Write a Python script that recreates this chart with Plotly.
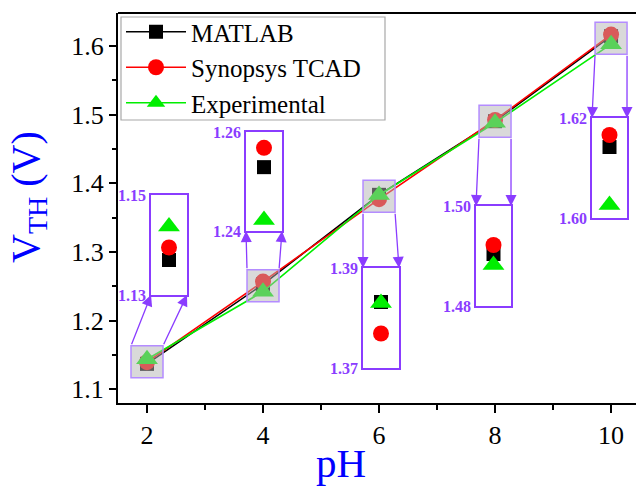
import plotly.graph_objects as go

# ---------------- data ----------------
ph = [2, 4, 6, 8, 10]
matlab = [1.137, 1.2529, 1.3832, 1.4904, 1.6142]
tcad = [1.1395, 1.2568, 1.3769, 1.4922, 1.6166]
experimental = [1.1437, 1.2422, 1.3830, 1.4882, 1.6026]
series_names = ["MATLAB", "Synopsys TCAD", "Experimental"]
inset_lo = [1.13, 1.24, 1.37, 1.48, 1.60]
inset_hi = [1.15, 1.26, 1.39, 1.50, 1.62]
x_ticks = [2, 4, 6, 8, 10]
y_ticks = [1.1, 1.2, 1.3, 1.4, 1.5, 1.6]

# ---------------- layout constants ----------------
W, H = 636, 486
ML, MT, PW, PHt = 118, 13, 518, 390
xr = [1.5, 10.43]
yr = [1.08, 1.648]
FONT = "Times New Roman, Liberation Serif, serif"
PURPLE = "#8a3cff"
PURPLE_LIGHT = "#b48cff"
HB = 16  # half size of highlight boxes (px)

# inset boxes in pixels: left, top, right, bottom
inset_px = [
    (151, 195, 187, 295),
    (246, 132, 282, 231),
    (363, 268, 399, 368),
    (476, 206, 511, 306),
    (592, 118, 627, 218),
]
legend_box_px = (121, 17, 385, 120)


def px(x):
    return ML + (x - xr[0]) / (xr[1] - xr[0]) * PW


def py(y):
    return MT + (yr[1] - y) / (yr[1] - yr[0]) * PHt


def pap_x(p):
    return (p - ML) / PW


def pap_y(p):
    return (MT + PHt - p) / PHt


styles = [
    dict(color="black", symbol="square", size=14),
    dict(color="red", symbol="circle", size=16),
    dict(color="#00ee00", symbol="triangle-up", size=19),
]
line_colors = ["black", "red", "#00ee00"]
all_series = [matlab, tcad, experimental]

fig = go.Figure()

# main traces
for name, vals, st, lc in zip(series_names, all_series, styles, line_colors):
    fig.add_trace(go.Scatter(
        x=ph, y=vals, mode="lines+markers", name=name,
        line=dict(color=lc, width=1.6),
        marker=dict(color=st["color"], symbol=st["symbol"], size=st["size"], line=dict(width=0)),
        xaxis="x", yaxis="y",
    ))

layout_axes = {}
annotations = []
shapes = []

for i, p in enumerate(ph):
    k = i + 2
    L, T, R, B = inset_px[i]
    for vals, st in zip(all_series, styles):
        fig.add_trace(go.Scatter(
            x=[p], y=[vals[i]], mode="markers", showlegend=False,
            marker=dict(color=st["color"], symbol=st["symbol"], size=st["size"], line=dict(width=0)),
            xaxis=f"x{k}", yaxis=f"y{k}", hoverinfo="skip",
        ))
    layout_axes[f"xaxis{k}"] = dict(
        domain=[pap_x(L), pap_x(R)], anchor=f"y{k}", range=[p - 1, p + 1],
        showticklabels=False, ticks="", showgrid=False, zeroline=False,
        showline=True, mirror=True, linecolor=PURPLE, linewidth=1.5, fixedrange=True,
    )
    layout_axes[f"yaxis{k}"] = dict(
        domain=[pap_y(B), pap_y(T)], anchor=f"x{k}", range=[inset_lo[i], inset_hi[i]],
        tickvals=[inset_lo[i], inset_hi[i]],
        ticktext=[f"<b>{inset_lo[i]:.2f}</b>", f"<b>{inset_hi[i]:.2f}</b>"],
        tickfont=dict(family=FONT, size=16, color=PURPLE),
        ticks="", ticklen=0, showgrid=False, zeroline=False,
        showline=True, mirror=True, linecolor=PURPLE, linewidth=1.5, fixedrange=True,
    )

    # highlight box around the main data point
    m = (matlab[i] + tcad[i] + experimental[i]) / 3
    shapes.append(dict(
        type="rect", xref="x", yref="y", xsizemode="pixel", ysizemode="pixel",
        xanchor=p, yanchor=m, x0=-HB, x1=HB, y0=-HB, y1=HB,
        fillcolor="rgba(180,180,180,0.5)", line=dict(color=PURPLE_LIGHT, width=1.5),
        layer="above",
    ))

    # arrows from highlight box to inset
    cx, cy = px(p), py(m)
    if B < cy:  # inset above
        tails = [(cx - HB, cy - HB), (cx + HB, cy - HB)]
        heads = [(L, B), (R, B)]
    else:
        tails = [(cx - HB, cy + HB), (cx + HB, cy + HB)]
        heads = [(L, T), (R, T)]
    for (tx, ty), (hx, hy) in zip(tails, heads):
        annotations.append(dict(
            x=pap_x(hx), y=pap_y(hy), xref="paper", yref="paper", text="",
            showarrow=True, ax=tx - hx, ay=ty - hy, axref="pixel", ayref="pixel",
            arrowhead=2, arrowsize=1.7, arrowwidth=1.3, arrowcolor=PURPLE, standoff=0,
        ))

# top frame line
shapes.append(dict(type="line", xref="paper", yref="paper", x0=0, x1=1, y0=1, y1=1,
                   line=dict(color="black", width=2), layer="above"))
# legend frame
lL, lT, lR, lB = legend_box_px
shapes.append(dict(type="rect", xref="paper", yref="paper",
                   x0=pap_x(lL), x1=pap_x(lR), y0=pap_y(lB), y1=pap_y(lT),
                   line=dict(color="#a8a8a8", width=1.2), fillcolor="white", layer="below"))

# axis titles
annotations.append(dict(
    text="V<sub>TH</sub> (V)", xref="paper", yref="paper",
    x=pap_x(28), y=pap_y(197), xanchor="center", yanchor="middle", textangle=-90,
    showarrow=False, font=dict(family=FONT, size=40, color="#0000ff"),
))
annotations.append(dict(
    text="pH", xref="paper", yref="paper",
    x=pap_x(341), y=pap_y(463), xanchor="center", yanchor="middle",
    showarrow=False, font=dict(family=FONT, size=41, color="#0000ff"),
))

fig.update_layout(
    width=W, height=H,
    margin=dict(l=ML, r=W - ML - PW, t=MT, b=H - MT - PHt, pad=0),
    paper_bgcolor="white", plot_bgcolor="white",
    font=dict(family=FONT, color="black"),
    xaxis=dict(
        domain=[0, 1], range=xr, tickvals=x_ticks, ticks="outside", ticklen=8, tickwidth=2,
        tickcolor="black", showline=True, linewidth=2, linecolor="black", mirror=False,
        showgrid=False, zeroline=False, tickfont=dict(family=FONT, size=26, color="black"),
        minor=dict(dtick=1, tick0=0, ticks="outside", ticklen=5, tickwidth=2, tickcolor="black"),
        fixedrange=True,
    ),
    yaxis=dict(
        domain=[0, 1], range=yr, tickvals=y_ticks, ticktext=[f"{v:.1f}" for v in y_ticks],
        ticks="outside", ticklen=7, tickwidth=2, tickcolor="black",
        showline=True, linewidth=2, linecolor="black", mirror=False,
        showgrid=False, zeroline=False, tickfont=dict(family=FONT, size=26, color="black"),
        minor=dict(dtick=0.05, tick0=0, ticks="outside", ticklen=4, tickwidth=2, tickcolor="black"),
        fixedrange=True,
    ),
    legend=dict(
        x=pap_x(121), y=pap_y(9), xanchor="left", yanchor="top",
        borderwidth=0, bgcolor="rgba(0,0,0,0)",
        font=dict(family=FONT, size=25, color="black"), itemwidth=60, tracegroupgap=0,
    ),
    shapes=shapes, annotations=annotations, showlegend=True,
    **layout_axes,
)

fig.write_html("out.html")
